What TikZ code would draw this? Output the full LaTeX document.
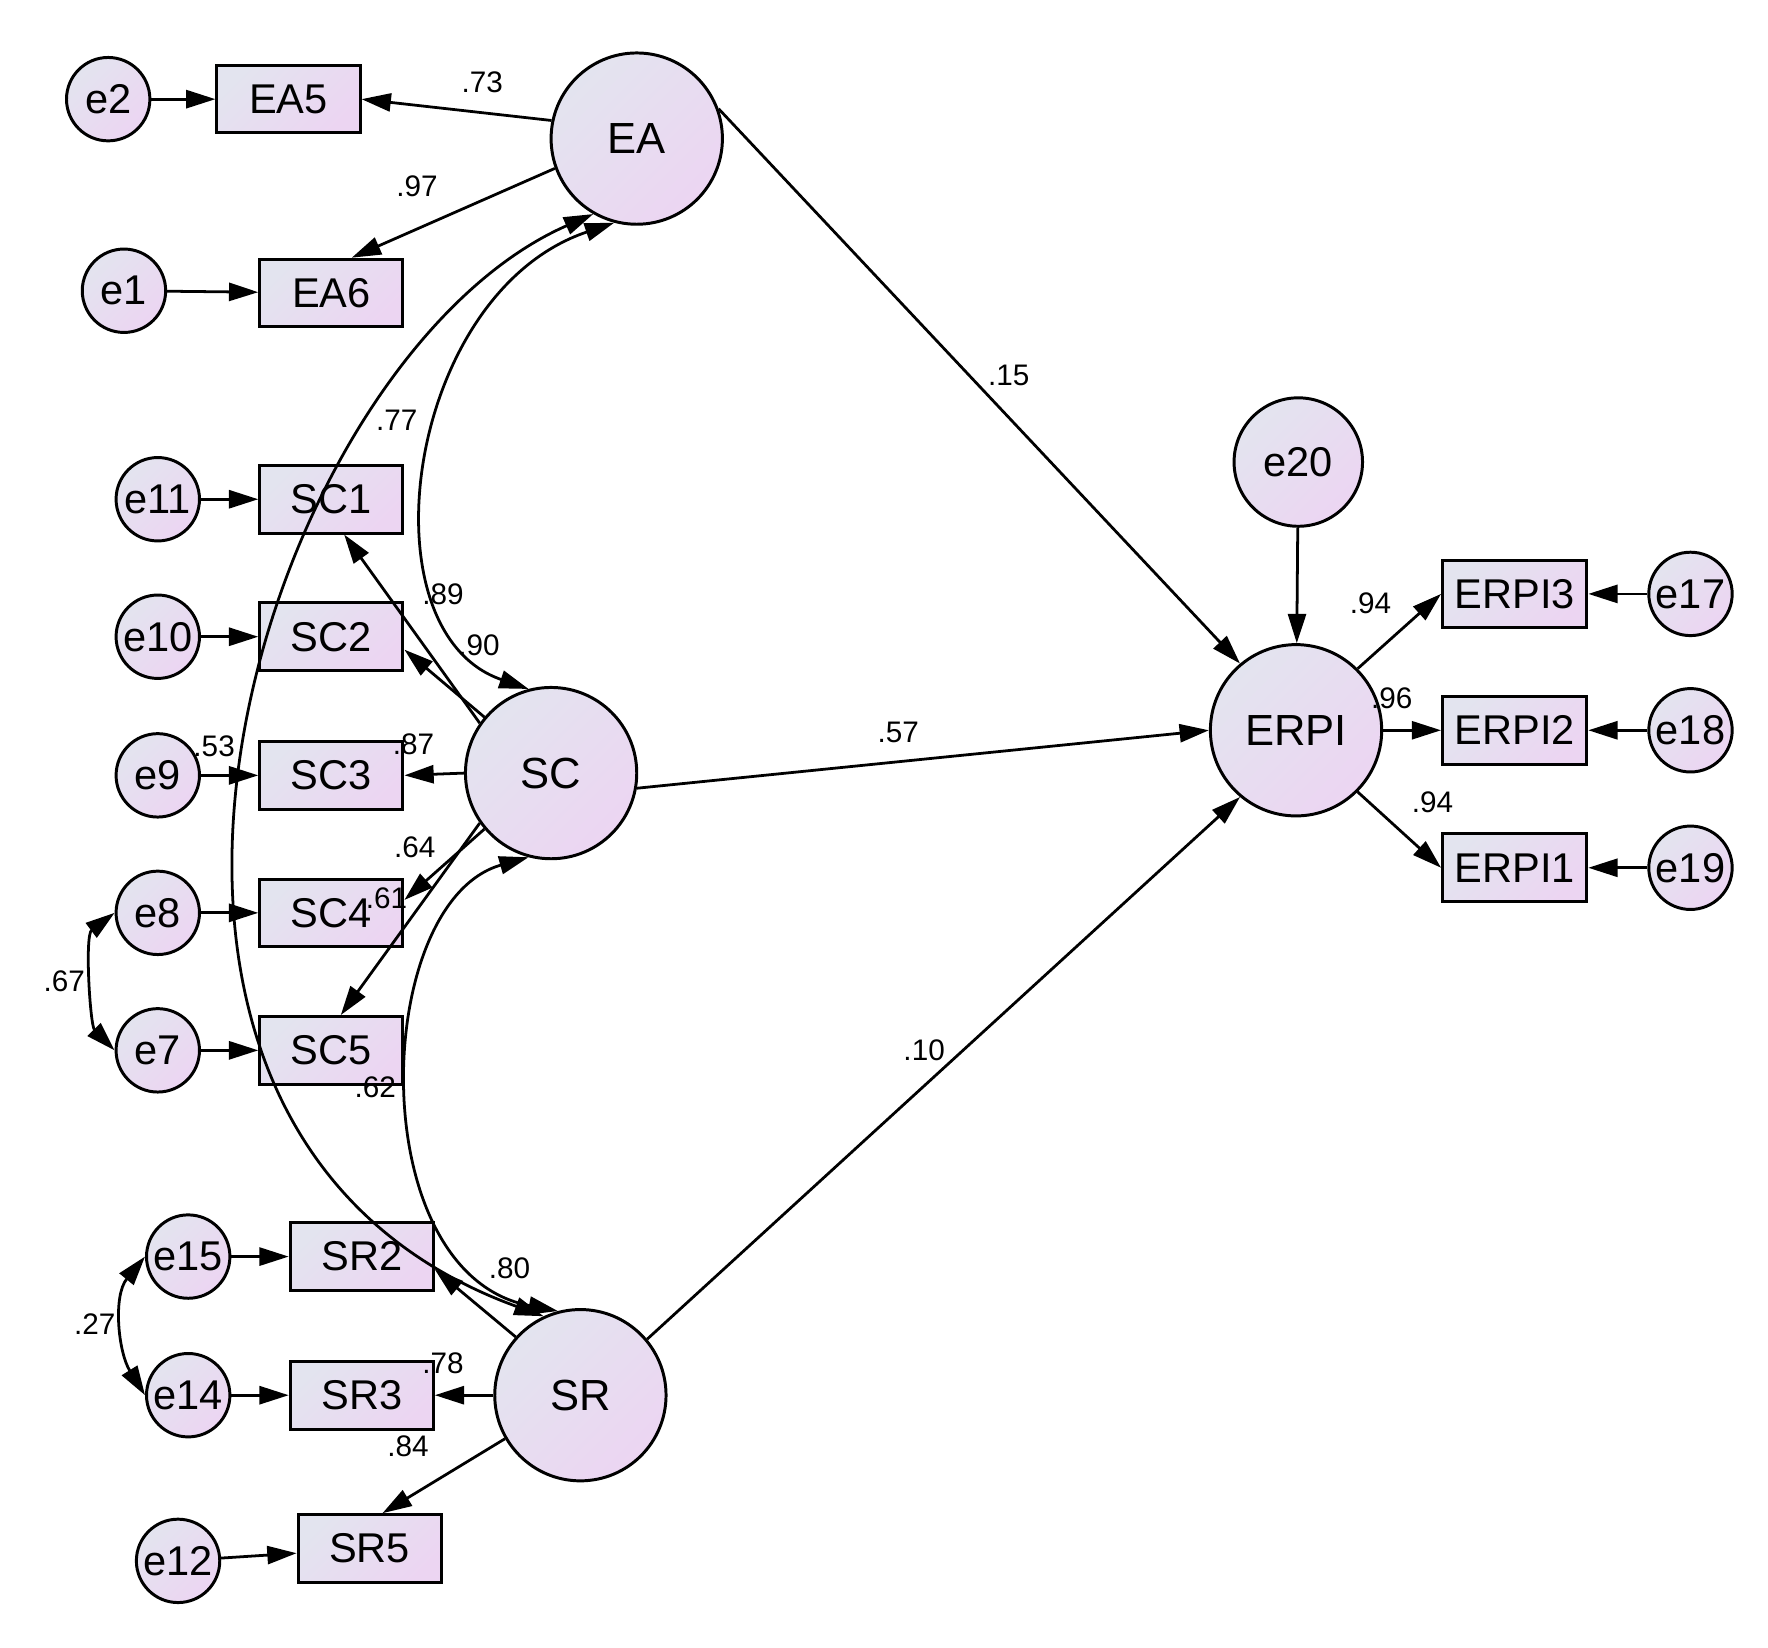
\documentclass[tikz,border=0pt]{standalone}
\usepackage{fontspec}
\setmainfont{Liberation Sans}
\usetikzlibrary{arrows.meta}
\definecolor{lvA}{HTML}{E3E4EF}
\definecolor{lvB}{HTML}{ECD5F2}
\begin{document}
\begin{tikzpicture}[x=0.1mm,y=-0.1mm,
  base/.style={draw=black,line width=0.75pt,left color=lvA,right color=lvB,shading angle=45,inner sep=0pt},
  lat/.style={base,circle,minimum size=15.2mm,font=\fontsize{11}{12}\selectfont},
  err/.style={base,circle,minimum size=7.4mm,font=\fontsize{10.5}{12}\selectfont},
  obs/.style={base,rectangle,minimum width=12.7mm,minimum height=6mm,font=\fontsize{10.5}{12}\selectfont},
  arr/.style={line width=0.7pt,-{Triangle[length=2.6mm,width=1.6mm]}},
  cov/.style={line width=0.7pt,{Triangle[length=2.6mm,width=1.6mm]}-{Triangle[length=2.6mm,width=1.6mm]}},
  lab/.style={font=\fontsize{7.5}{9}\selectfont,inner sep=0pt}]
\useasboundingbox (0,0) rectangle (1568.8,1462.3);
% latents
\node[lat] (EA) at (565,123) {EA};
\node[lat] (SC) at (489,686) {SC};
\node[lat] (SR) at (515,1238) {SR};
\node[lat] (ERPI) at (1150,648) {ERPI};
\node[err,minimum size=11.4mm] (e20) at (1152,410) {e20};
% observed
\node[obs] (EA5) at (256,88) {EA5};
\node[obs] (EA6) at (294,260) {EA6};
\node[obs] (SC1) at (294,443) {SC1};
\node[obs] (SC2) at (294,565) {SC2};
\node[obs] (SC3) at (294,688) {SC3};
\node[obs] (SC4) at (294,810) {SC4};
\node[obs] (SC5) at (294,932) {SC5};
\node[obs] (SR2) at (321,1115) {SR2};
\node[obs] (SR3) at (321,1238) {SR3};
\node[obs] (SR5) at (328,1374) {SR5};
\node[obs,minimum width=12.8mm] (ERPI3) at (1344,527) {ERPI3};
\node[obs,minimum width=12.8mm] (ERPI2) at (1344,648) {ERPI2};
\node[obs,minimum width=12.8mm] (ERPI1) at (1344,770) {ERPI1};
% errors
\node[err] (e2) at (96,88) {e2};
\node[err] (e1) at (110,258) {e1};
\node[err] (e11) at (140,443) {e11};
\node[err] (e10) at (140,565) {e10};
\node[err] (e9) at (140,688) {e9};
\node[err] (e8) at (140,810) {e8};
\node[err] (e7) at (140,932) {e7};
\node[err] (e15) at (167,1115) {e15};
\node[err] (e14) at (167,1238) {e14};
\node[err] (e12) at (158,1385) {e12};
\node[err] (e17) at (1500,527) {e17};
\node[err] (e18) at (1500,648) {e18};
\node[err] (e19) at (1500,770) {e19};
% error arrows
\foreach \e/\o in {e2/EA5,e1/EA6,e11/SC1,e10/SC2,e9/SC3,e8/SC4,e7/SC5,e15/SR2,e14/SR3,e12/SR5,e17/ERPI3,e18/ERPI2,e19/ERPI1}
  \draw[arr] (\e) -- (\o);
\draw[arr] (e20) -- (ERPI);
% loadings
\draw[arr] (EA.168) -- (EA5.east);
\draw[arr] (EA.200) -- (EA6.60);
\draw[arr] (SC.145) -- (SC1.-70);
\draw[arr] (SC.140) -- (SC2.-10);
\draw[arr] (SC.180) -- (SC3.east);
\draw[arr] (SC.-140) -- (SC4.10);
\draw[arr] (SC.-145) -- (SC5.75);
\draw[arr] (SR.138) -- (SR2.-10);
\draw[arr] (SR.180) -- (SR3.east);
\draw[arr] (SR.-150) -- (SR5.70);
\draw[arr] (ERPI.45) -- (ERPI3.west);
\draw[arr] (ERPI.0) -- (ERPI2.west);
\draw[arr] (ERPI.-45) -- (ERPI1.west);
% structural
\draw[arr] (EA.20) -- (ERPI.130);
\draw[arr] (SC.-10) -- (ERPI.180);
\draw[arr] (SR.40) -- (ERPI.-130);
% covariances
\draw[cov] (EA.-105) .. controls (360,260) and (320,560) .. (SC.105);
\draw[cov] (EA.-120) .. controls (230,320) and (20,1000) .. (SR.115);
\draw[cov] (SC.-105) .. controls (330,800) and (320,1130) .. (SR.105);
\draw[cov] (e8.west) .. controls (75,830) and (80,910) .. (e7.west);
\draw[cov] (e15.west) .. controls (100,1150) and (105,1200) .. (e14.west);
% labels
\node[lab] at (428,73) {.73};
\node[lab] at (370,165) {.97};
\node[lab] at (895,333) {.15};
\node[lab] at (352,373) {.77};
\node[lab] at (393,527) {.89};
\node[lab] at (425,573) {.90};
\node[lab] at (190,662) {.53};
\node[lab] at (367,660) {.87};
\node[lab] at (368,752) {.64};
\node[lab] at (343,797) {.61};
\node[lab] at (57,871) {.67};
\node[lab] at (333,965) {.62};
\node[lab] at (820,932) {.10};
\node[lab] at (797,650) {.57};
\node[lab] at (1216,535) {.94};
\node[lab] at (1235,620) {.96};
\node[lab] at (1271,712) {.94};
\node[lab] at (452,1125) {.80};
\node[lab] at (393,1210) {.78};
\node[lab] at (84,1175) {.27};
\node[lab] at (362,1283) {.84};
\end{tikzpicture}
\end{document}
